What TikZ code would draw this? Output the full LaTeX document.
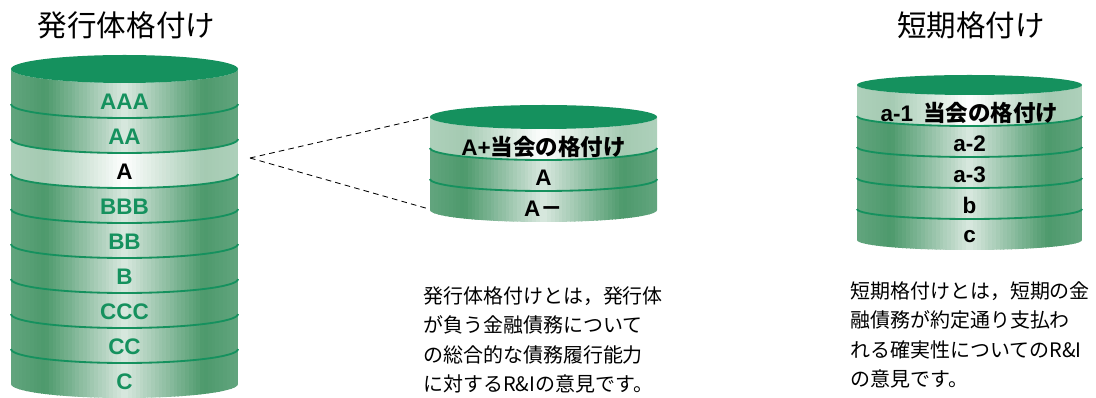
\documentclass[tikz,border=0pt]{standalone}
\usepackage{fontspec}
\setmainfont{Noto Sans CJK JP}
\newfontfamily\latinlabel{Liberation Sans}
\usepackage{xcolor}
\usetikzlibrary{positioning}
\definecolor{rigreen}{HTML}{15915E}
\definecolor{bandlight}{HTML}{DAE9E0}
\definecolor{banddark}{HTML}{4D996C}
\definecolor{bandedge}{HTML}{62A57E}
\definecolor{hidark}{HTML}{A4CAB2}
\definecolor{hiedge}{HTML}{AED0BA}
\tikzstyle{divider} = [draw=rigreen, line width=1.3pt]
\tikzstyle{title} = [font=\fontsize{21}{24}\selectfont, text=black]
\tikzstyle{leftlabel} = [font=\fontsize{16}{18}\selectfont\bfseries, text=rigreen]
\tikzstyle{blacklabel} = [font=\fontsize{16}{18}\selectfont\bfseries, text=black]
\tikzstyle{note} = [font=\fontsize{14.2}{21}\selectfont, align=left, anchor=north west, inner sep=0pt]
\tikzstyle{zoomline} = [draw=black, line width=0.6pt, dash pattern=on 4pt off 3pt]
% one band of a cylinder: cx, rx, ry, top side y, bottom side y, centre/dark/edge colours
\newcommand{\ratingband}[8]{%
  \begin{scope}
    \clip ({#1-#2},{-(#4)}) -- ({#1-#2},{-(#5)})
      arc[start angle=180, end angle=360, x radius=#2, y radius=#3]
      -- ({#1+#2},{-(#4)})
      arc[start angle=0, end angle=-180, x radius=#2, y radius=#3] -- cycle;
    \foreach \i in {0,...,59} {
      \pgfmathsetmacro\bandu{abs((\i+0.5)/30-1)}
      \pgfmathtruncatemacro\bandp{max(0,100*(1-\bandu/0.7))}
      \pgfmathtruncatemacro\bandq{min(100,100*(1-(\bandu-0.7)/0.3))}
      \fill[#6!\bandp!#7!\bandq!#8] ({#1-#2+2*#2*\i/60},{-(#4)}) rectangle ({#1-#2+2*#2*(\i+1.3)/60},{-(#5)-#3});
    }
  \end{scope}}
% green line under a band: cx, rx, ry, side y
\newcommand{\bandline}[4]{%
  \draw[divider] ({#1-#2},{-(#4)}) arc[start angle=180, end angle=360, x radius=#2, y radius=#3];}

\begin{document}
\begin{tikzpicture}[x=0.025cm, y=0.025cm]
    \useasboundingbox (0,0) rectangle (1096,-398);

    % issuer rating
    \node (issuer) [title] at (126.5,-25) {発行体格付け};
    \foreach \k in {0,1,3,4,5,6,7,8}
        \ratingband{124.5}{113.5}{14}{69+35*\k}{104+35*\k}{bandlight}{banddark}{bandedge};
    \ratingband{124.5}{113.5}{14}{139}{174}{white}{hidark}{hiedge}
    \foreach \k in {1,...,8}
        \bandline{124.5}{113.5}{14}{69+35*\k};
    \fill[rigreen] (124.5,-69) ellipse[x radius=113.5, y radius=14];
    \node (aaa) [leftlabel] at (124.5,-101.5) {\latinlabel AAA};
    \node (aa) [leftlabel] at (124.5,-136.5) {\latinlabel AA};
    \node (a) [blacklabel] at (124.5,-171.5) {\latinlabel A};
    \node (bbb) [leftlabel] at (124.5,-206.5) {\latinlabel BBB};
    \node (bb) [leftlabel] at (124.5,-241.5) {\latinlabel BB};
    \node (b) [leftlabel] at (124.5,-276.5) {\latinlabel B};
    \node (ccc) [leftlabel] at (124.5,-311.5) {\latinlabel CCC};
    \node (cc) [leftlabel] at (124.5,-346.5) {\latinlabel CC};
    \node (c) [leftlabel] at (124.5,-381.5) {\latinlabel C};

    % detail of the A band
    \ratingband{543.5}{113.5}{12}{117}{148}{white}{hidark}{hiedge}
    \ratingband{543.5}{113.5}{12}{148}{179}{bandlight}{banddark}{bandedge}
    \ratingband{543.5}{113.5}{12}{179}{210}{bandlight}{banddark}{bandedge}
    \bandline{543.5}{113.5}{12}{148}
    \bandline{543.5}{113.5}{12}{179}
    \fill[rigreen] (543.5,-117) ellipse[x radius=113.5, y radius=12];
    \node (aplus) [blacklabel] at (543.5,-146.5) {{\latinlabel A+}当会の格付け};
    \node (amid) [blacklabel] at (543.5,-177.5) {\latinlabel A};
    \node (aminus) [blacklabel] at (543.5,-208.5) {{\latinlabel A}－};

    \coordinate (zoomfrom) at (250,-158);
    \coordinate (zoomtop) at (429,-117);
    \coordinate (zoombot) at (429,-209);
    \draw [zoomline] (zoomfrom) -- (zoomtop);
    \draw [zoomline] (zoomfrom) -- (zoombot);

    \node (issuernote) [note] at (423,-286) {発行体格付けとは，発行体\\が負う金融債務について\\の総合的な債務履行能力\\に対するR\&Iの意見です。};

    % short-term rating
    \node (shortterm) [title] at (971,-25) {短期格付け};
    \ratingband{969.5}{112.5}{10}{85}{116}{white}{hidark}{hiedge}
    \foreach \k in {1,...,4}
        \ratingband{969.5}{112.5}{10}{85+31*\k}{116+31*\k}{bandlight}{banddark}{bandedge};
    \foreach \k in {1,...,4}
        \bandline{969.5}{112.5}{10}{85+31*\k};
    \fill[rigreen] (969.5,-85) ellipse[x radius=112.5, y radius=10];
    \node (aone) [blacklabel] at (969.5,-112.5) {{\latinlabel a-1}\ \ 当会の格付け};
    \node (atwo) [blacklabel] at (969.5,-143.5) {\latinlabel a-2};
    \node (athree) [blacklabel] at (969.5,-174.5) {\latinlabel a-3};
    \node (sb) [blacklabel] at (969.5,-205.5) {\latinlabel b};
    \node (sc) [blacklabel] at (969.5,-236.5) {\latinlabel c};

    \node (shortnote) [note] at (850,-281) {短期格付けとは，短期の金\\融債務が約定通り支払わ\\れる確実性についてのR\&I\\の意見です。};
\end{tikzpicture}
\end{document}
